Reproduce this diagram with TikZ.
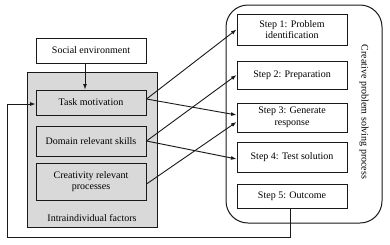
\documentclass[tikz,border=0pt]{standalone}
\usepackage{fontspec}
\setmainfont{Liberation Serif}
\usetikzlibrary{arrows.meta, positioning, calc}

\begin{document}
\begin{tikzpicture}[
    x=1pt, y=-1pt,
    panel/.style={rectangle, draw=black!90, line width=1pt},
    factor/.style={rectangle, draw=black!90, line width=1pt, align=center, minimum width=110pt, font=\fontsize{10}{11.7}\selectfont},
    stepbox/.style={rectangle, draw=black!90, fill=white, line width=1pt, align=center, minimum width=110pt, font=\fontsize{10}{11.7}\selectfont},
    arrow/.style={-{Latex[length=5.5pt, width=4pt]}, line width=0.9pt, draw=black!90}
]
    \useasboundingbox (0,0) rectangle (390,244);

    % panels
    \node (intra) [panel, fill=black!15, minimum width=130pt, minimum height=155pt] at (92,149.5) {};
    \node (intralabel) [font=\fontsize{10}{12}\selectfont] at (92,218) {Intraindividual factors};
    \node (cps) [panel, rounded corners=22pt, minimum width=156pt, minimum height=218pt] at (304,114) {};
    \node (cpslabel) [rotate=-90, font=\fontsize{10}{12}\selectfont] at (364,112) {Creative problem solving process};

    % left column
    \node (soc) [factor, fill=white, minimum height=25pt] at (91,50.5) {Social environment};
    \node (task) [factor, minimum height=25pt] at (91,102.5) {Task motivation};
    \node (domain) [factor, minimum height=30pt] at (91,141) {Domain relevant skills};
    \node (creat) [factor, minimum height=37pt] at (91,181.5) {Creativity relevant\\processes};

    % steps
    \node (s1) [stepbox, minimum height=31pt] at (292,29.5) {Step 1: Problem\\identification};
    \node (s2) [stepbox, minimum height=28pt] at (292,75) {Step 2: Preparation};
    \node (s3) [stepbox, minimum height=29pt] at (292,117.5) {Step 3: Generate\\response};
    \node (s4) [stepbox, minimum height=30pt] at (292,157) {Step 4: Test solution};
    \node (s5) [stepbox, minimum height=24pt] at (292,196) {Step 5: Outcome};

    \coordinate (fbl) at (7,237);

    \draw [arrow] ([xshift=-6pt]soc.south) -- ([xshift=-6pt]task.north);
    \draw [arrow] ([yshift=3.5pt]task.east) -- (s1.west);
    \draw [arrow] ([yshift=3.5pt]task.east) -- ([yshift=2.5pt]s3.west);
    \draw [arrow] (domain.east) -- (s2.west);
    \draw [arrow] (domain.east) -- ([yshift=-2pt]s4.west);
    \draw [arrow] ([yshift=-2.5pt]creat.east) -- ([yshift=-4.5pt]s3.west);
    \draw [arrow] ([xshift=-2pt]s5.south) |- (fbl) |- ([yshift=-1.5pt]task.west);
\end{tikzpicture}
\end{document}
